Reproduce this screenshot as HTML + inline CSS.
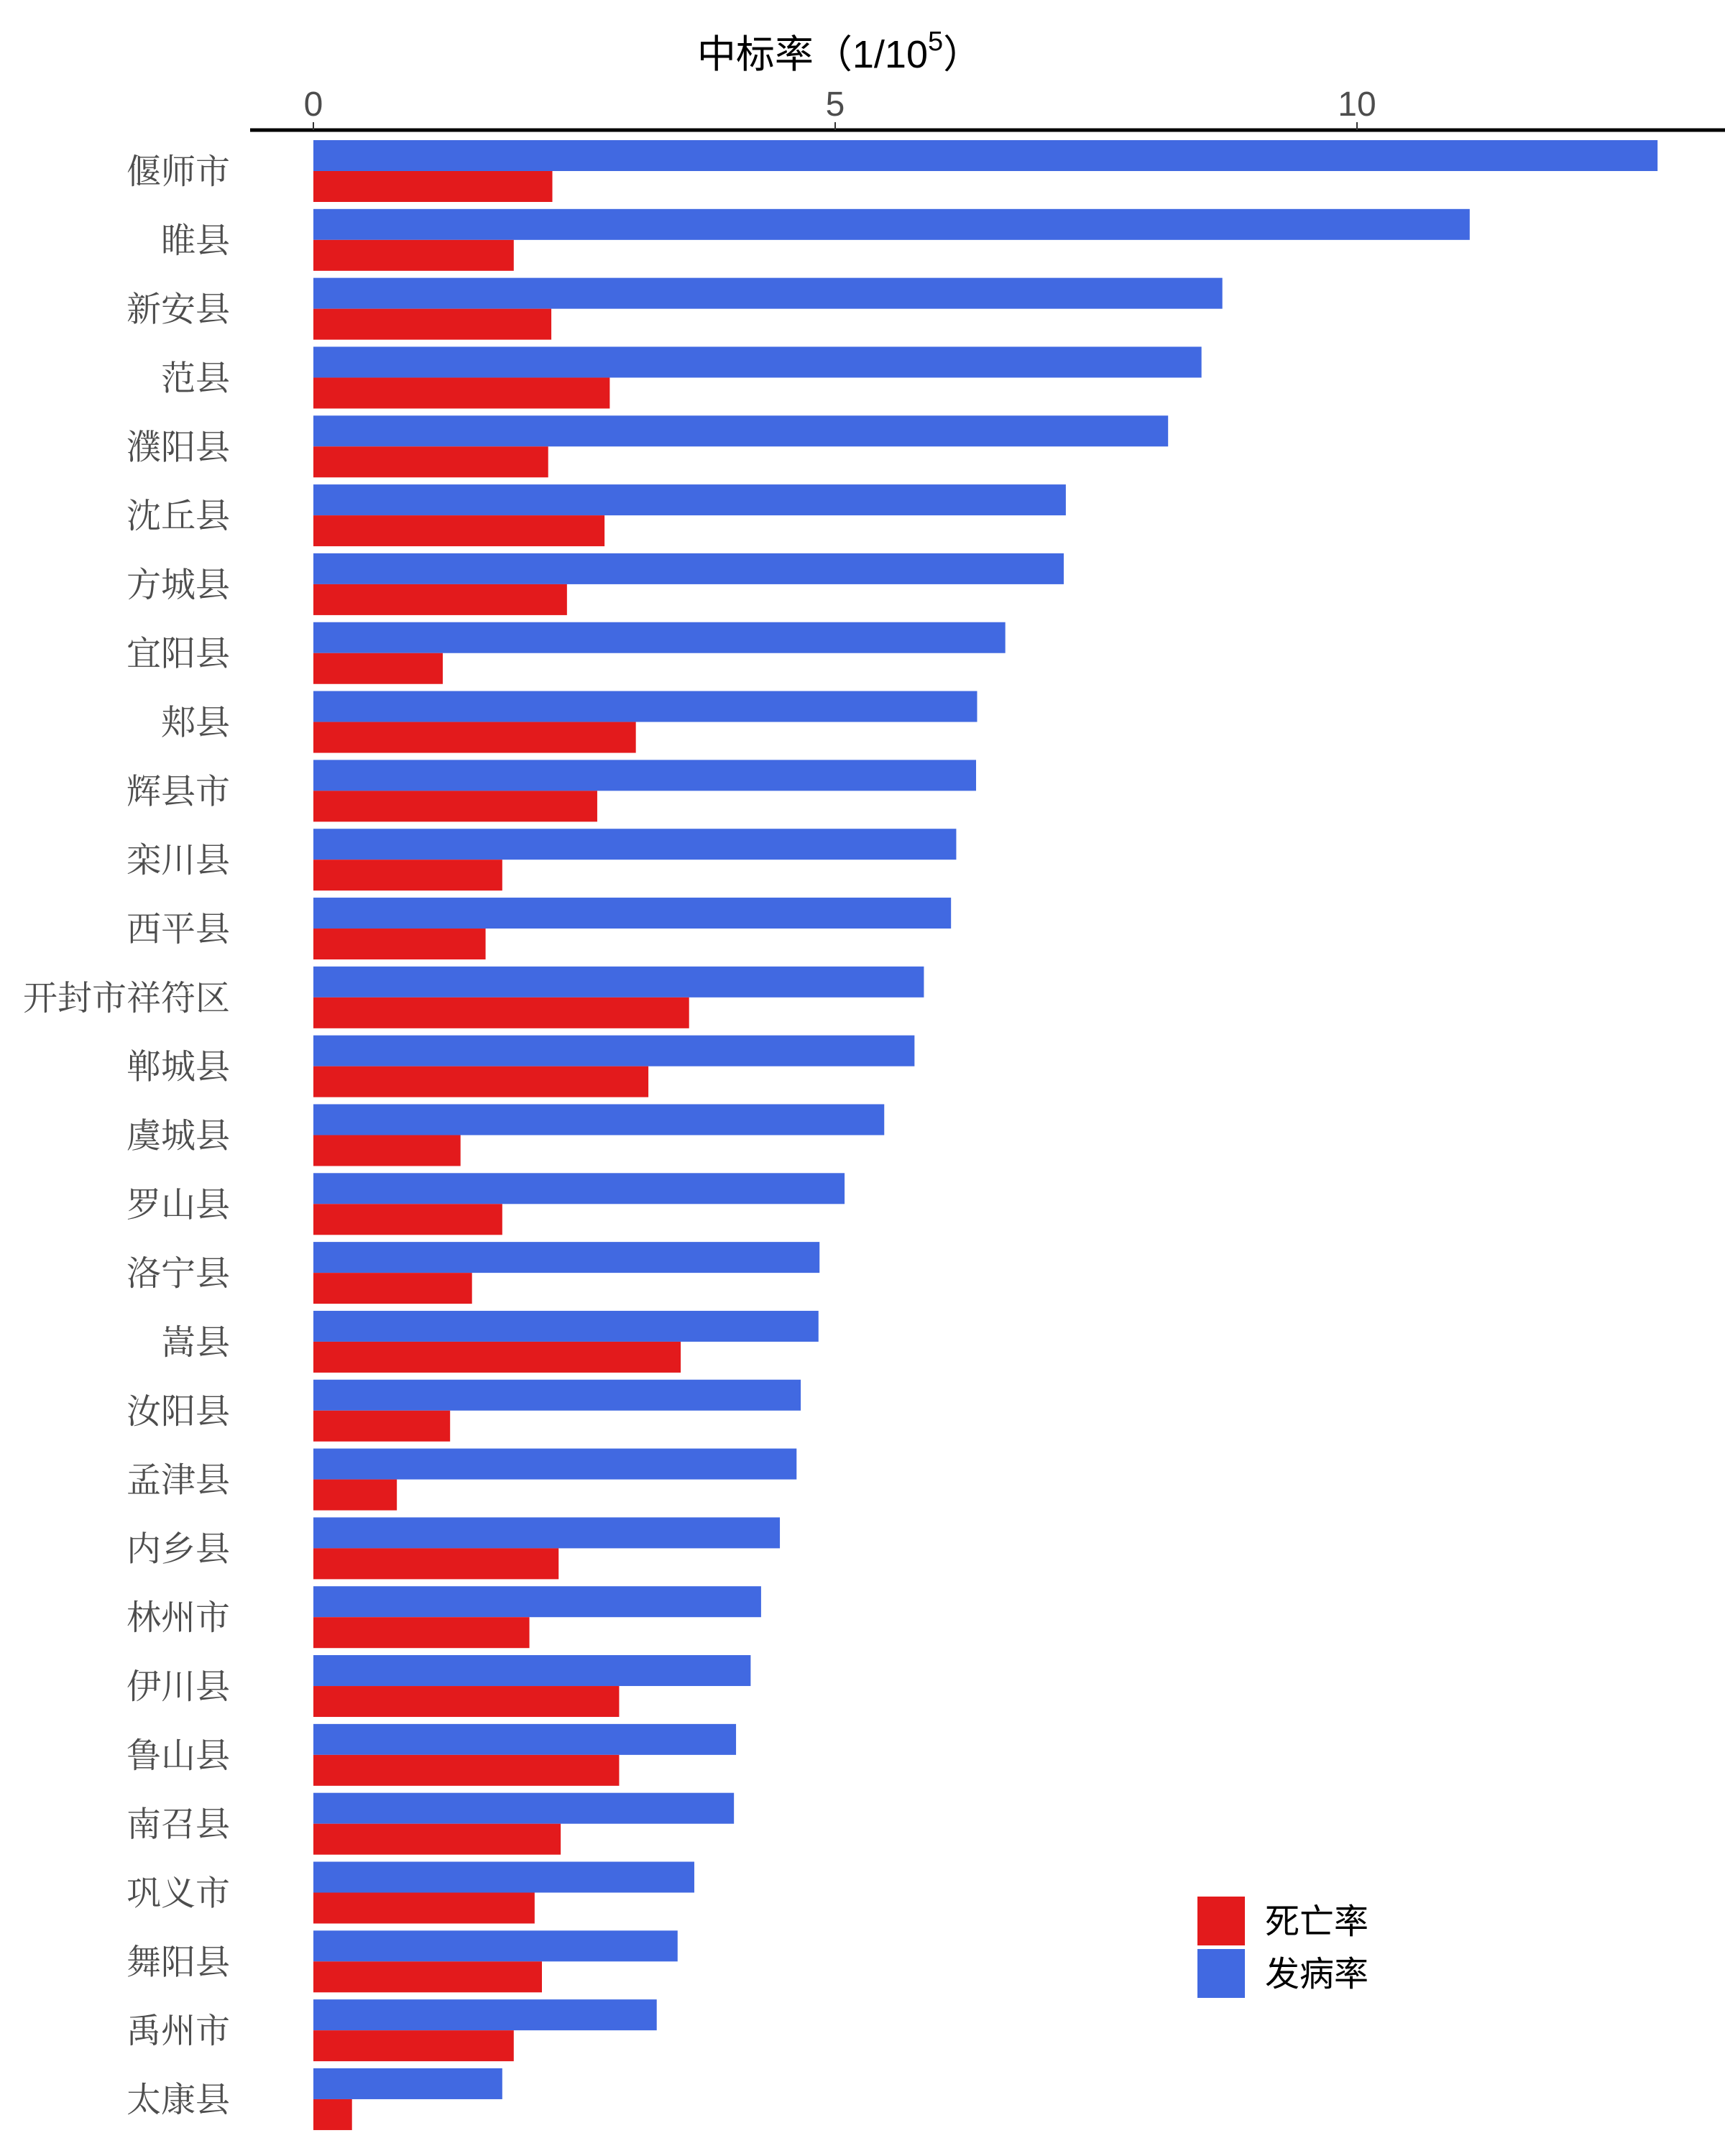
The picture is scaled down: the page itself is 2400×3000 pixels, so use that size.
<!DOCTYPE html>
<html><head><meta charset="utf-8"><style>
html,body{margin:0;padding:0;background:#fff;}
svg{display:block;}
</style></head><body>
<svg id="chart" width="2400" height="3000" viewBox="0 0 2400 3000" xmlns="http://www.w3.org/2000/svg">
<text x="1168" y="94" text-anchor="middle" font-family="'Liberation Sans','Noto Sans CJK SC',sans-serif" font-size="54" fill="#000">中标率（1/10<tspan dy="-24" font-size="38">5</tspan><tspan dy="24">）</tspan></text>
<line x1="348" y1="181" x2="2400" y2="181" stroke="#000" stroke-width="5"/>
<g id="ticks"></g>
<g id="bars"></g>
<g id="labels"></g>
<rect x="1666" y="2639" width="66" height="68" fill="#E31A1C"/>
<text x="1760" y="2690" font-family="'Liberation Sans','Noto Sans CJK SC',sans-serif" font-size="48" fill="#000">死亡率</text>
<rect x="1666" y="2712" width="66" height="68" fill="#4169E1"/>
<text x="1760" y="2763" font-family="'Liberation Sans','Noto Sans CJK SC',sans-serif" font-size="48" fill="#000">发病率</text>
</svg>
<script>
const categories = ["偃师市","睢县","新安县","范县","濮阳县","沈丘县","方城县","宜阳县","郏县","辉县市","栾川县","西平县","开封市祥符区","郸城县","虞城县","罗山县","洛宁县","嵩县","汝阳县","孟津县","内乡县","林州市","伊川县","鲁山县","南召县","巩义市","舞阳县","禹州市","太康县"];
const incidence = [12.88,11.08,8.71,8.51,8.19,7.21,7.19,6.63,6.36,6.35,6.16,6.11,5.85,5.76,5.47,5.09,4.85,4.84,4.67,4.63,4.47,4.29,4.19,4.05,4.03,3.65,3.49,3.29,1.81];
const mortality = [2.29,1.92,2.28,2.84,2.25,2.79,2.43,1.24,3.09,2.72,1.81,1.65,3.60,3.21,1.41,1.81,1.52,3.52,1.31,0.80,2.35,2.07,2.93,2.93,2.37,2.12,2.19,1.92,0.37];
const tickValues = [0,5,10];
const tickLabels = ["0","5","10"];

const NS = "http://www.w3.org/2000/svg";
const x0 = 436, pxPerUnit = 145.2;
const xScale = v => x0 + v * pxPerUnit;
const top0 = 195, pitch = 95.82, barH = 43;
const yScale = i => top0 + i * pitch;

const ticksG = document.getElementById('ticks');
tickValues.forEach((t, i) => {
  const l = document.createElementNS(NS, 'line');
  
  
  l.setAttribute('x1', xScale(t)); l.setAttribute('x2', xScale(t));
  l.setAttribute('y1', 170); l.setAttribute('y2', 181);
  l.setAttribute('stroke', '#333'); l.setAttribute('stroke-width', 2);
  ticksG.appendChild(l);
  const tx = document.createElementNS(NS, 'text');
  
  
  tx.setAttribute('x', xScale(t)); tx.setAttribute('y', 161);
  tx.setAttribute('text-anchor', 'middle');
  tx.setAttribute('font-family', "'Liberation Sans',sans-serif");
  tx.setAttribute('font-size', 48);
  tx.setAttribute('fill', '#4d4d4d');
  tx.textContent = tickLabels[i];
  ticksG.appendChild(tx);
});

const barsG = document.getElementById('bars');
const labelsG = document.getElementById('labels');
categories.forEach((c, i) => {
  const y = yScale(i);
  const b = document.createElementNS(NS, 'rect');
  
  
  b.setAttribute('x', x0); b.setAttribute('y', y);
  b.setAttribute('width', xScale(incidence[i]) - x0); b.setAttribute('height', barH);
  b.setAttribute('fill', '#4169E1');
  barsG.appendChild(b);
  const r = document.createElementNS(NS, 'rect');
  
  
  r.setAttribute('x', x0); r.setAttribute('y', y + barH);
  r.setAttribute('width', xScale(mortality[i]) - x0); r.setAttribute('height', barH);
  r.setAttribute('fill', '#E31A1C');
  barsG.appendChild(r);
  const t = document.createElementNS(NS, 'text');
  
  
  t.setAttribute('x', 320); t.setAttribute('y', y + barH + 17);
  t.setAttribute('text-anchor', 'end');
  t.setAttribute('font-family', "'Liberation Serif','Noto Serif CJK SC',serif");
  t.setAttribute('font-size', 48);
  t.setAttribute('fill', '#4d4d4d');
  t.textContent = c;
  labelsG.appendChild(t);
});
</script>
</body></html>
